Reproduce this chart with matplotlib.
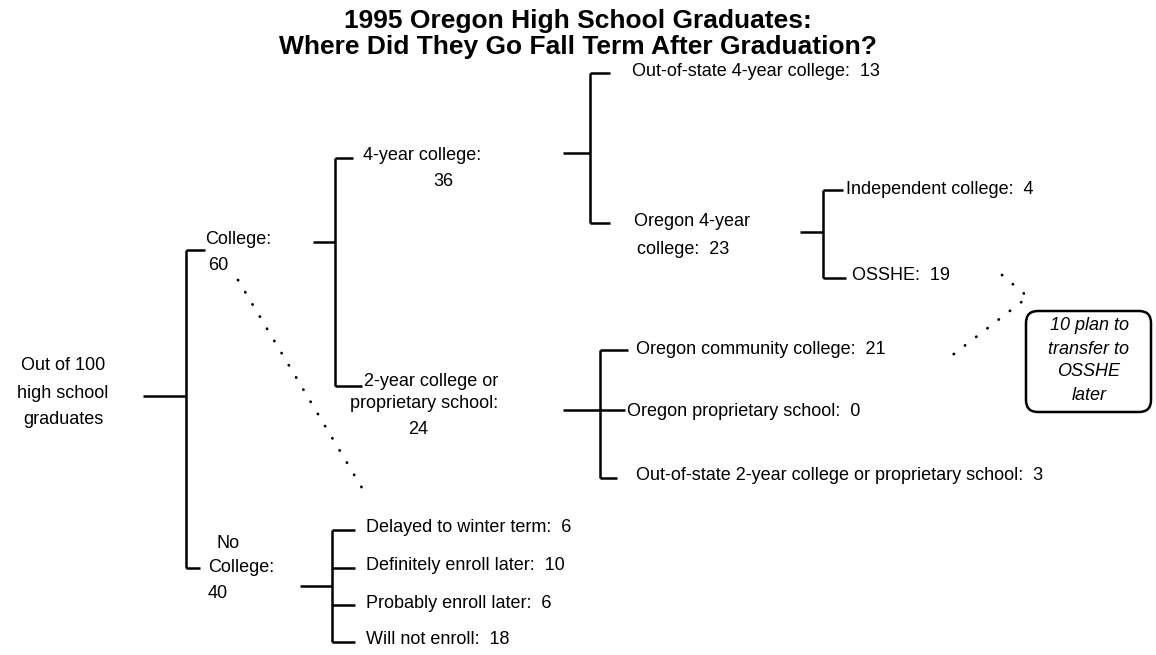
import matplotlib
matplotlib.use("Agg")
import matplotlib.pyplot as plt
from matplotlib.patches import FancyBboxPatch

# data
title_lines = ["1995 Oregon High School Graduates:",
               "Where Did They Go Fall Term After Graduation?"]
total = 100
level1 = ["College", "No College"]
level1_n = [60, 40]
college_types = ["4-year college", "2-year college or proprietary school"]
college_types_n = [36, 24]
four_year = ["Out-of-state 4-year college", "Oregon 4-year college"]
four_year_n = [13, 23]
oregon_four_year = ["Independent college", "OSSHE"]
oregon_four_year_n = [4, 19]
two_year = ["Oregon community college", "Oregon proprietary school",
            "Out-of-state 2-year college or proprietary school"]
two_year_n = [21, 0, 3]
no_college = ["Delayed to winter term", "Definitely enroll later",
              "Probably enroll later", "Will not enroll"]
no_college_n = [6, 10, 6, 18]
transfer_plan = 10

FONT = "Liberation Sans"
FS = 13
LW = 1.8


def bracket(ax, x_in, x, y_mid, ys, x_ends):
    """Draw a tree bracket: incoming stub, vertical bar, one tick per child."""
    kw = dict(color="black", lw=LW, solid_capstyle="butt")
    ax.plot([x_in, x], [y_mid, y_mid], **kw)
    ax.plot([x, x], [min(ys), max(ys)], **kw)
    for y, xe in zip(ys, x_ends):
        ax.plot([x, xe], [y, y], **kw)


def label(ax, x, y, s, ha="left", **kw):
    ax.text(x, y, s, ha=ha, va="center", fontsize=FS, family=FONT, **kw)


def main():
    fig = plt.figure(figsize=(11.56, 6.55), dpi=100)
    ax = fig.add_axes([0, 0, 1, 1])
    ax.set_xlim(0, 1156)
    ax.set_ylim(655, 0)
    ax.axis("off")

    # title
    for y, line in zip([21, 47], title_lines):
        ax.text(578, y, line, ha="center", va="center", fontsize=19,
                fontweight="bold", family=FONT)

    # root
    for y, line in zip([366, 393, 419],
                       [f"Out of {total}", "high school", "graduates"]):
        label(ax, 63, y, line, ha="center")
    bracket(ax, 143, 186, 396, [250, 568], [205, 200])
    label(ax, 205, 240, f"{level1[0]}:")
    label(ax, 208, 265, f"{level1_n[0]}")
    label(ax, 217, 543, "No")
    label(ax, 208, 568, "College:")
    label(ax, 208, 593, f"{level1_n[1]}")

    # college -> 4-year / 2-year
    bracket(ax, 313, 335, 242, [158, 386], [353, 362])
    label(ax, 363, 155, f"{college_types[0]}:")
    label(ax, 443, 182, f"{college_types_n[0]}", ha="center")
    label(ax, 364, 381, "2-year college or")
    label(ax, 350, 404, "proprietary school:")
    label(ax, 418, 430, f"{college_types_n[1]}", ha="center")

    # 4-year split
    bracket(ax, 563, 590, 153, [73, 223], [610, 610])
    label(ax, 632, 71, f"{four_year[0]}:  {four_year_n[0]}")
    label(ax, 634, 221, "Oregon 4-year")
    label(ax, 637, 250, f"college:  {four_year_n[1]}")

    # Oregon 4-year split
    bracket(ax, 800, 823, 232, [190, 278], [843, 846])
    label(ax, 846, 189, f"{oregon_four_year[0]}:  {oregon_four_year_n[0]}")
    label(ax, 852, 276, f"{oregon_four_year[1]}:  {oregon_four_year_n[1]}")

    # 2-year split
    bracket(ax, 563, 600, 410, [350, 410, 478], [628, 625, 617])
    for y, x, name, n in zip([350, 411, 475], [636, 627, 636],
                             two_year, two_year_n):
        label(ax, x, y, f"{name}:  {n}")

    # no college split
    bracket(ax, 300, 332, 586, [530, 568, 605, 642], [355] * 4)
    for y, name, n in zip([528, 566, 604, 640], no_college, no_college_n):
        label(ax, 366, y, f"{name}:  {n}")

    # dotted connectors
    dot = dict(color="black", lw=2.0, linestyle=(0, (0.1, 5.0)),
               dash_capstyle="round")
    ax.plot([238, 368], [280, 498], **dot)
    ax.plot([1002, 1028, 950], [275, 297, 357], **dot)

    # transfer note box
    box = FancyBboxPatch((1026, 311), 125, 101,
                         boxstyle="round,pad=0,rounding_size=12",
                         fc="white", ec="black", lw=LW)
    ax.add_patch(box)
    for y, line in zip([326, 349, 372, 395],
                       [f"{transfer_plan} plan to", "transfer to",
                        "OSSHE", "later"]):
        label(ax, 1089, y, line, ha="center", style="italic")

    fig.savefig("out.png", dpi=100)


if __name__ == "__main__":
    main()
